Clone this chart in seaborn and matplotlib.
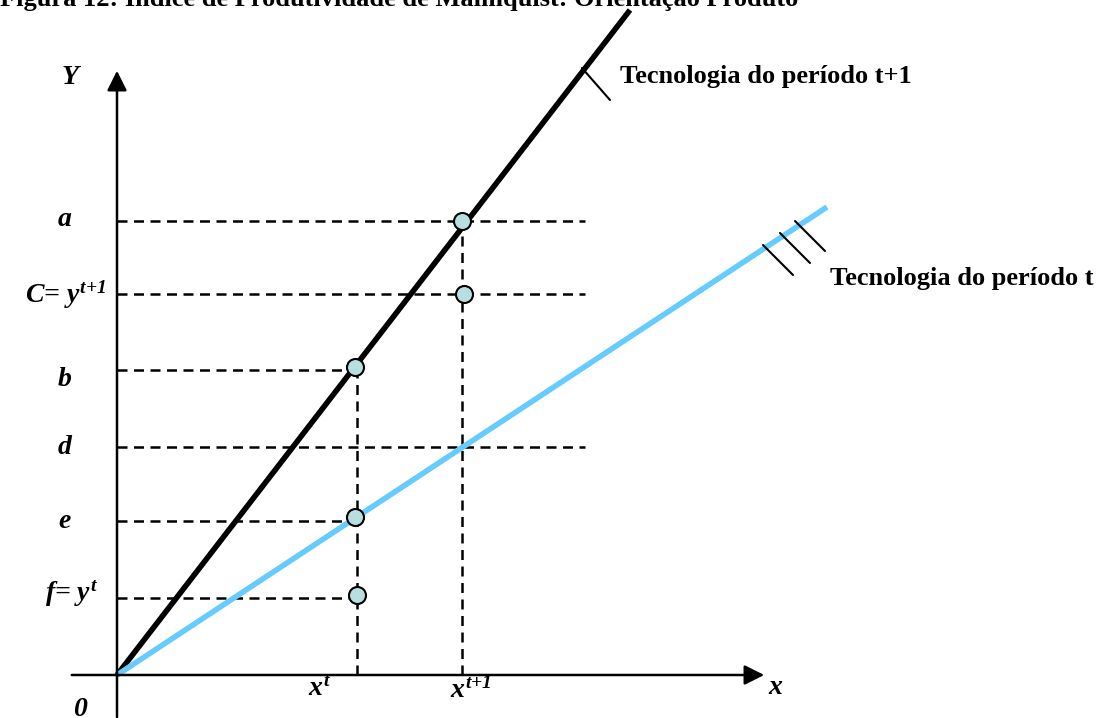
import numpy as np
import pandas as pd
import matplotlib
matplotlib.use('Agg')
import matplotlib.pyplot as plt
import seaborn as sns

# levels on the Y axis (origin = 0)
level_names = ['a', 'C', 'b', 'd', 'e', 'f']
level_values = [4.54, 3.81, 3.05, 2.28, 1.54, 0.77]
level_ends = [4.68, 4.68, 2.38, 4.68, 2.38, 2.38]

# input positions on the x axis
x_t = 2.40
x_t1 = 3.45

# observed / projected points
point_x = [3.45, 3.47, 2.38, 2.38, 2.40]
point_y = [4.54, 3.81, 3.08, 1.58, 0.80]

# technology frontiers (through the origin)
front_t1_x = [0.0, 5.13]
front_t1_y = [0.0, 6.65]
front_t_x = [0.0, 7.10]
front_t_y = [0.0, 4.68]

sns.set_style('white')
plt.rcParams['text.color'] = 'black'
plt.rcParams['mathtext.fontset'] = 'custom'
plt.rcParams['mathtext.rm'] = 'Liberation Serif:bold:italic'
plt.rcParams['mathtext.it'] = 'Liberation Serif:bold:italic'
plt.rcParams['mathtext.bf'] = 'Liberation Serif:bold:italic'

fig = plt.figure(figsize=(11.16, 7.18), dpi=100)
ax = fig.add_axes([0, 0, 1, 1])
ax.set_xlim(-1.17, 9.99)
ax.set_ylim(-0.43, 6.75)
ax.axis('off')

serif = 'Liberation Serif'
dash = (0, (4, 2.6))

# dashed guides
for v, e in zip(level_values, level_ends):
    ax.plot([0, e], [v, v], ls=dash, color='black', lw=1.8)
ax.plot([x_t, x_t], [0, 3.08], ls=dash, color='black', lw=1.8)
ax.plot([x_t1, x_t1], [0, 4.54], ls=dash, color='black', lw=1.8)

# axes with arrows
ax.annotate('', xy=(0, 6.07), xytext=(0, -0.45),
            arrowprops=dict(arrowstyle='-|>', mutation_scale=30, lw=1.8, color='black'))
ax.annotate('', xy=(6.50, 0), xytext=(-0.48, 0),
            arrowprops=dict(arrowstyle='-|>', mutation_scale=30, lw=1.8, color='black'))

# frontiers
front = pd.DataFrame({'x': front_t1_x + front_t_x,
                      'y': front_t1_y + front_t_y,
                      'tech': ['t+1', 't+1', 't', 't']})
sns.lineplot(data=front, x='x', y='y', hue='tech',
             palette={'t+1': 'black', 't': '#66ccff'},
             linewidth=4.0, legend=False, ax=ax, solid_capstyle='butt')

# hatch marks
ax.plot([4.65, 4.93], [6.07, 5.75], color='black', lw=1.5)
for x0, y0 in [(6.46, 4.30), (6.63, 4.42), (6.78, 4.54)]:
    ax.plot([x0, x0 + 0.30], [y0, y0 - 0.30], color='black', lw=1.5)

pts = pd.DataFrame({'x': point_x, 'y': point_y})
sns.scatterplot(data=pts, x='x', y='y', s=150, color='#b8dfdf',
                edgecolor='black', linewidth=1.5, ax=ax, zorder=5)
ax.set_xlabel('')
ax.set_ylabel('')

# labels
lab = dict(family=serif, fontweight='bold', style='italic', fontsize=20, color='black')
ax.text(-0.47, 5.98, 'Y', ha='center', va='center', **lab)
ax.text(-0.52, 4.56, 'a', ha='center', va='center', **lab)
ax.text(-0.52, 3.80, r'C= $y^{t{+}1}$', ha='center', va='center', **lab)
ax.text(-0.52, 2.95, 'b', ha='center', va='center', **lab)
ax.text(-0.52, 2.28, 'd', ha='center', va='center', **lab)
ax.text(-0.52, 1.54, 'e', ha='center', va='center', **lab)
ax.text(-0.45, 0.81, r'f= $y^{t}$', ha='center', va='center', **lab)
ax.text(-0.37, -0.35, '0', ha='center', va='center', **lab)
ax.text(2.03, -0.15, r'$x^{t}$', ha='center', va='center', **lab)
ax.text(3.54, -0.15, r'$x^{t{+}1}$', ha='center', va='center', **lab)
ax.text(6.58, -0.13, 'x', ha='center', va='center', **lab)

tech = dict(family=serif, fontweight='bold', fontsize=19, color='black')
ax.text(5.03, 5.98, 'Tecnologia do período t+1', ha='left', va='center', **tech)
ax.text(7.13, 3.96, 'Tecnologia do período t', ha='left', va='center', **tech)

fig.text(0.0, 1 - 6 / 718, 'Figura 12: Índice de Produtividade de Malmquist: Orientação Produto',
         ha='left', va='baseline', **tech)

fig.savefig('out.png', dpi=100)
